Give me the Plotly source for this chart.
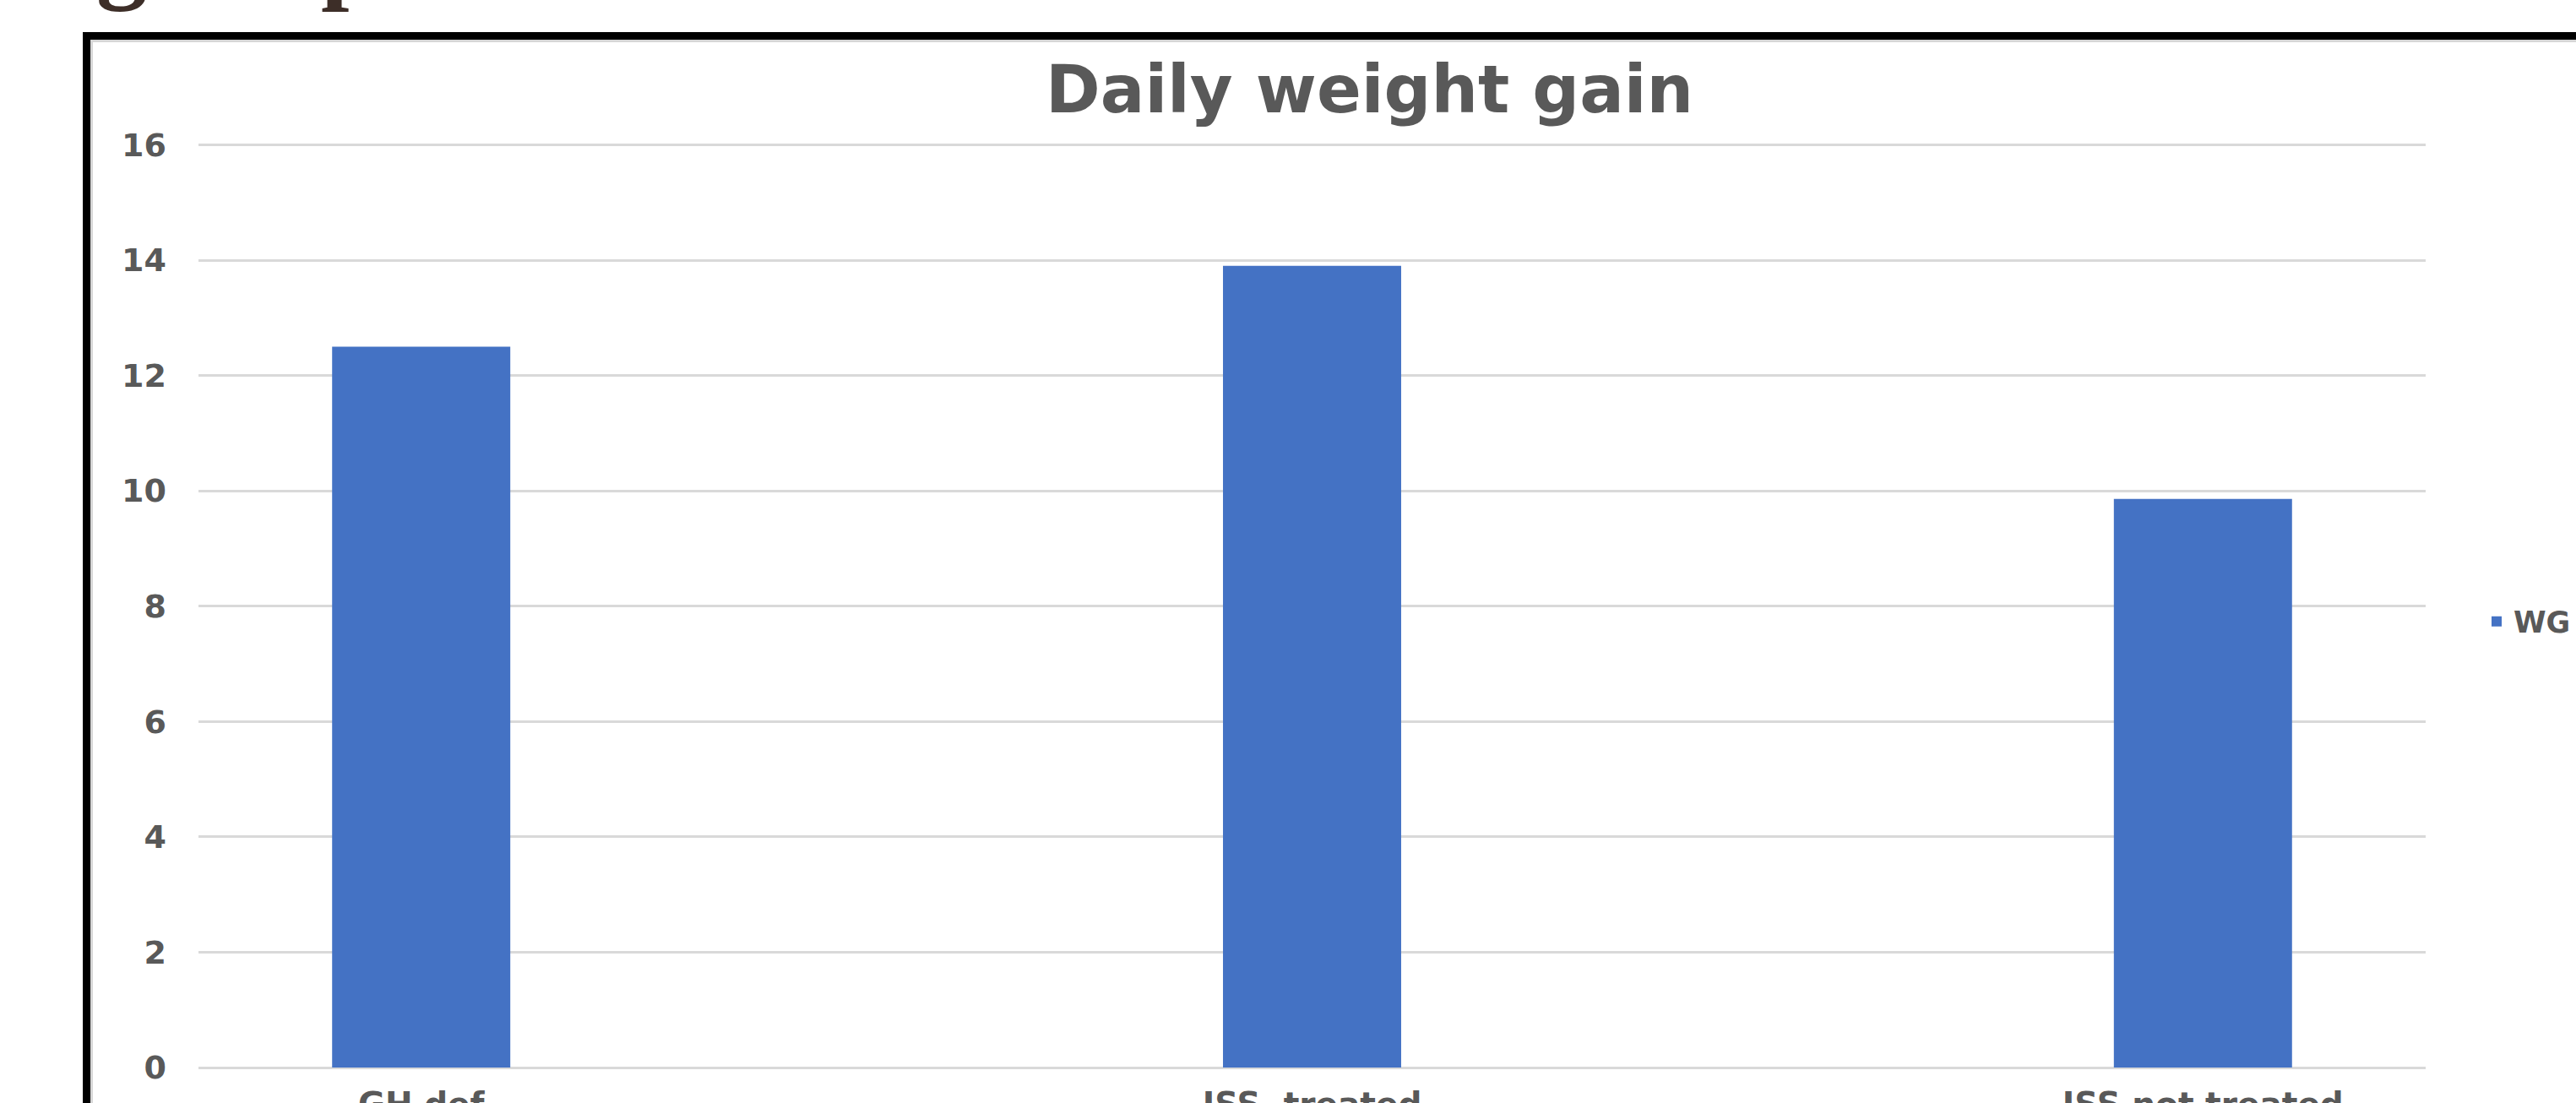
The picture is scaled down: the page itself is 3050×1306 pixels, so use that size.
import plotly.graph_objects as go

categories = ["GH def", "ISS  treated", "ISS not treated"]
wg_values = [12.5, 13.9, 9.86]
series_name = "WG"
y_ticks = [0, 2, 4, 6, 8, 10, 12, 14, 16]
chart_title = "Daily weight gain"

W, H = 3050, 1306
Y_TOP = 16.08
ZERO_PX, SIXTEEN_PX = 1263.5, 171.7
unit = (ZERO_PX - SIXTEEN_PX) / 16
T = round(SIXTEEN_PX - (Y_TOP - 16) * unit)
L, R, B = 235, 3050 - 2872, round(H - ZERO_PX)
pw, ph = W - L - R, H - T - B

def px_x(x):
    return (x - L) / pw

def px_y(y):
    return (H - B - y) / ph

label_color = "#595959"
grid_color = "#d9d9d9"

fig = go.Figure()
fig.add_trace(go.Bar(
    x=list(range(len(categories))), y=wg_values, name=series_name,
    marker=dict(color="#4472C4", line=dict(width=0)), width=0.2,
    showlegend=True,
))

fig.update_layout(
    width=W, height=H,
    margin=dict(l=L, r=R, t=T, b=B, pad=0, autoexpand=False),
    paper_bgcolor="white", plot_bgcolor="white",
    showlegend=True,
    legend=dict(x=px_x(2936), y=px_y(736), xanchor="left", yanchor="middle",
                font=dict(family="DejaVu Sans", size=35, color=label_color, weight="bold"),
                bgcolor="rgba(0,0,0,0)", borderwidth=0),
    xaxis=dict(
        range=[-0.25, 2.25], tickmode="array", automargin=False,
        tickvals=list(range(len(categories))),
        ticktext=[c.replace("  ", "\u00a0 ") for c in categories],
        showgrid=False, zeroline=False, showline=False, ticks="",
        tickfont=dict(family="DejaVu Sans", size=39, color=label_color, weight="bold"),
        ticklabelstandoff=17,
    ),
    yaxis=dict(
        range=[0, Y_TOP], tickmode="array", tickvals=y_ticks, automargin=False,
        ticktext=[str(v) for v in y_ticks],
        showgrid=True, gridcolor=grid_color, gridwidth=2.5,
        zeroline=True, zerolinecolor=grid_color, zerolinewidth=3,
        showline=False, ticks="",
        tickfont=dict(family="DejaVu Sans", size=38, color=label_color, weight="bold"),
        ticklabelstandoff=37,
    ),
    annotations=[
        dict(text=chart_title, xref="paper", yref="paper",
             x=px_x(1622), y=px_y(106), xanchor="center", yanchor="middle",
             showarrow=False,
             font=dict(family="DejaVu Sans", size=78,
                       color=label_color, weight="bold")),
        dict(text="g", xref="paper", yref="paper", x=px_x(112), y=px_y(16),
             xanchor="left", yanchor="bottom", showarrow=False,
             font=dict(family="Liberation Serif", size=120, color="#3d2e28", weight="bold")),
        dict(text="p", xref="paper", yref="paper", x=px_x(378), y=px_y(16),
             xanchor="left", yanchor="bottom", showarrow=False,
             font=dict(family="Liberation Serif", size=120, color="#3d2e28", weight="bold")),
    ],
    shapes=[
        dict(type="rect", xref="paper", yref="paper",
             x0=px_x(108.5), x1=px_x(3200), y0=px_y(1500), y1=px_y(48.5),
             line=dict(color="#d6d6d6", width=3), fillcolor="rgba(0,0,0,0)", layer="below"),
        dict(type="rect", xref="paper", yref="paper",
             x0=px_x(102.5), x1=px_x(3200), y0=px_y(1500), y1=px_y(42.5),
             line=dict(color="black", width=9), fillcolor="rgba(0,0,0,0)", layer="above"),
    ],
)

fig.write_html("out.html")
